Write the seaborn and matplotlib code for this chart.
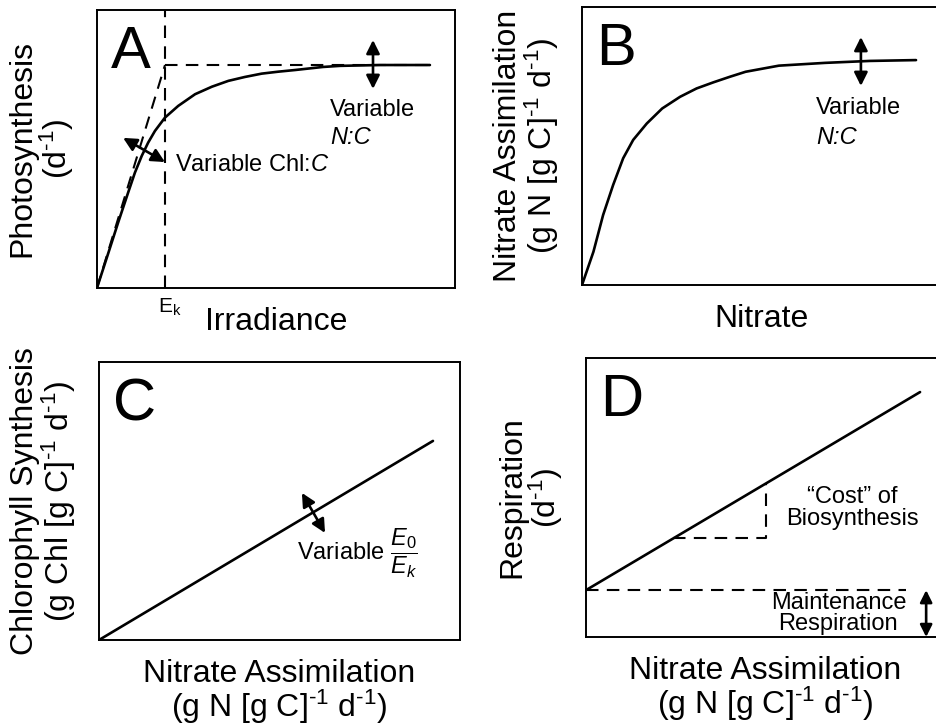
import numpy as np
import seaborn as sns
import matplotlib.pyplot as plt

# Panel A: photosynthesis vs irradiance (axis fractions)
a_irradiance = [0, 0.032, 0.059, 0.087, 0.106, 0.125, 0.143, 0.162, 0.190,
                0.227, 0.274, 0.321, 0.367, 0.413, 0.460, 0.506, 0.553,
                0.631, 0.679, 0.79, 0.93]
a_photo = [0, 0.127, 0.235, 0.343, 0.415, 0.475, 0.523, 0.565, 0.613,
           0.655, 0.697, 0.724, 0.745, 0.759, 0.771, 0.778, 0.784,
           0.795, 0.799, 0.802, 0.802]
a_pmax = 0.802
a_ek = 0.190

# Panel B: nitrate assimilation vs nitrate
b_nitrate = [0, 0.032, 0.059, 0.087, 0.115, 0.143, 0.181, 0.224, 0.274,
             0.320, 0.367, 0.413, 0.457, 0.550, 0.679, 0.804, 0.933]
b_assim = [0, 0.120, 0.252, 0.360, 0.456, 0.522, 0.581, 0.635, 0.677,
           0.707, 0.729, 0.749, 0.767, 0.789, 0.799, 0.806, 0.809]

# Panel C: chlorophyll synthesis vs nitrate assimilation
c_assim = [0, 0.925]
c_chl = [0, 0.716]

# Panel D: respiration vs nitrate assimilation
d_assim = [0, 0.933]
d_resp = [0.168, 0.878]
d_maint = 0.168
d_cost_x = [0.243, 0.503]
d_cost_y = [0.355, 0.552]

sns.set_theme(style="white", rc={"axes.edgecolor": "black", "axes.linewidth": 1.4,
                                 "text.color": "black", "axes.labelcolor": "black"})
plt.rcParams["font.family"] = ["Liberation Sans", "DejaVu Sans"]
plt.rcParams["mathtext.fontset"] = "custom"
plt.rcParams["mathtext.rm"] = "Liberation Sans"
plt.rcParams["mathtext.it"] = "Liberation Sans:italic"
plt.rcParams["mathtext.bf"] = "Liberation Sans:bold"

LABEL_FS = 23
NOTE_FS = 17
DASH = (0, (6, 4))
LW = 1.9
SUP = "$^{\\text{-1}}$"
UNITS = "(g N [g C]" + SUP + " d" + SUP + ")"


def setup_panel(ax, letter, xlabel, ylabel, xpad=14, ypad=15):
    """ Blank axes with a big panel letter and two-line labels """
    ax.set_xlim(0, 1)
    ax.set_ylim(0, 1)
    ax.set_xticks([])
    ax.set_yticks([])
    ax.set_xlabel(xlabel, fontsize=LABEL_FS, labelpad=xpad, linespacing=0.95)
    ax.set_ylabel(ylabel, fontsize=LABEL_FS, labelpad=ypad, linespacing=1.0)
    ax.text(0.04, 0.945, letter, transform=ax.transAxes, fontsize=43,
            ha="left", va="top")


def double_arrow(ax, start, end, scale=20):
    """ Two-headed black arrow in data coords """
    ax.annotate("", xy=end, xytext=start,
                arrowprops=dict(arrowstyle="<|-|>", color="black", lw=1.9,
                                mutation_scale=scale, shrinkA=0, shrinkB=0))


fig = plt.figure(figsize=(9.36, 7.28), dpi=100)
ax_a = fig.add_axes([0.1036, 0.6044, 0.3825, 0.3819])
ax_b = fig.add_axes([0.6218, 0.6085, 0.3825, 0.3819])
ax_c = fig.add_axes([0.1058, 0.1209, 0.3857, 0.3819])
ax_d = fig.add_axes([0.6261, 0.1250, 0.3825, 0.3832])

# ---- A ----
setup_panel(ax_a, "A", "Irradiance", "Photosynthesis\n(d" + SUP + ")")
sns.lineplot(x=a_irradiance, y=a_photo, ax=ax_a, color="black", lw=LW,
             estimator=None, sort=False)
ax_a.axvline(a_ek, color="black", lw=1.5, linestyle=DASH)
ax_a.plot([a_ek, a_irradiance[-1]], [a_pmax, a_pmax], color="black", lw=1.5,
          linestyle=DASH)
ax_a.plot([0, a_ek], [0, a_pmax], color="black", lw=1.5, linestyle=DASH)
ax_a.text(a_ek + 0.012, -0.03, "E$_\\mathrm{k}$", transform=ax_a.get_xaxis_transform(),
          ha="center", va="top", fontsize=15)
double_arrow(ax_a, (0.771, 0.716), (0.771, 0.892))
ax_a.text(0.651, 0.640, "Variable", fontsize=NOTE_FS, va="center")
ax_a.text(0.651, 0.543, "N:C", fontsize=NOTE_FS, va="center", style="italic")
double_arrow(ax_a, (0.073, 0.540), (0.190, 0.453))
ax_a.text(0.218, 0.442, "Variable Chl:$C$", fontsize=NOTE_FS, va="center")

# ---- B ----
setup_panel(ax_b, "B", "Nitrate", "Nitrate Assimilation\n" + UNITS)
sns.lineplot(x=b_nitrate, y=b_assim, ax=ax_b, color="black", lw=LW,
             estimator=None, sort=False)
double_arrow(ax_b, (0.779, 0.716), (0.779, 0.892))
ax_b.text(0.654, 0.637, "Variable", fontsize=NOTE_FS, va="center")
ax_b.text(0.654, 0.532, "N:C", fontsize=NOTE_FS, va="center", style="italic")

# ---- C ----
setup_panel(ax_c, "C", "Nitrate Assimilation\n" + UNITS,
            "Chlorophyll Synthesis\n(g Chl [g C]" + SUP + " d" + SUP + ")", xpad=14)
sns.lineplot(x=c_assim, y=c_chl, ax=ax_c, color="black", lw=LW,
             estimator=None, sort=False)
double_arrow(ax_c, (0.562, 0.529), (0.626, 0.385))
ax_c.text(0.548, 0.313, "Variable $\\dfrac{E_\\mathrm{0}}{E_k}$", fontsize=NOTE_FS,
          va="center")

# ---- D ----
setup_panel(ax_d, "D", "Nitrate Assimilation\n" + UNITS,
            "Respiration\n(d" + SUP + ")", xpad=14)
sns.lineplot(x=d_assim, y=d_resp, ax=ax_d, color="black", lw=LW,
             estimator=None, sort=False)
ax_d.plot([0, 0.894], [d_maint, d_maint], color="black", lw=1.5, linestyle=DASH)
ax_d.plot([d_cost_x[0], d_cost_x[1], d_cost_x[1]],
          [d_cost_y[0], d_cost_y[0], d_cost_y[1]],
          color="black", lw=1.5, linestyle=DASH)
ax_d.text(0.743, 0.462, "\u201cCost\u201d of\nBiosynthesis", fontsize=NOTE_FS,
          ha="center", va="center", linespacing=1.0)
ax_d.text(0.705, 0.085, "Maintenance\nRespiration", fontsize=NOTE_FS,
          ha="center", va="center", linespacing=0.95)
double_arrow(ax_d, (0.95, 0.0), (0.95, d_maint), scale=18)

fig.savefig("out.png", dpi=100, facecolor="white")
